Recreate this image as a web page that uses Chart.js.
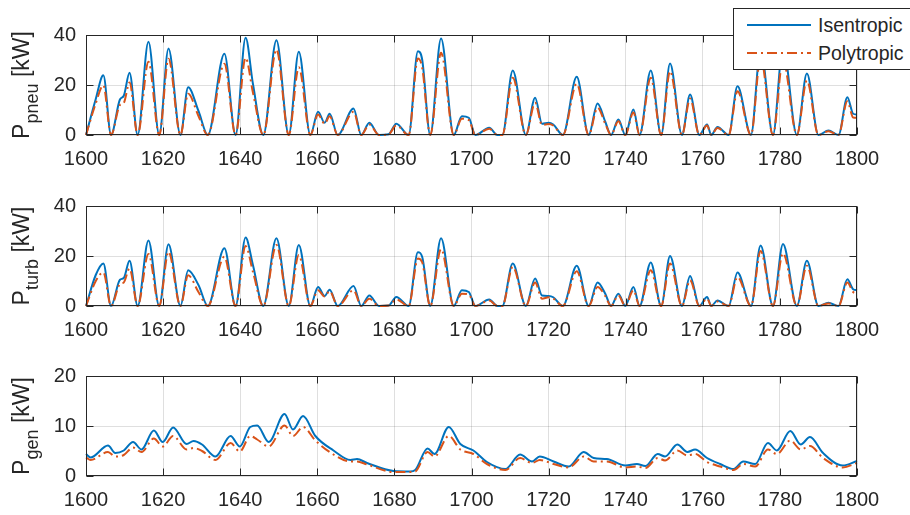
<!DOCTYPE html>
<html>
<head>
<meta charset="utf-8">
<script src="https://cdn.jsdelivr.net/npm/chart.js@4.4.1/dist/chart.umd.min.js"></script>
<style>
  body { margin: 0; background: #fff; }
  #wrap { position: relative; width: 910px; height: 515px; overflow: hidden; background: #fff;
          font-family: "Liberation Sans", Arial, sans-serif; color: #262626; }
  canvas { position: absolute; left: 0; }
  .ylab { position: absolute; white-space: nowrap; font-size: 23px; line-height: 23px;
          transform: translate(-50%, -50%) rotate(-90deg); }
  .ylab span { font-size: 18px; position: relative; top: 9px; }
  #legend { position: absolute; left: 733px; top: 8px; width: 185px; height: 60px;
            border: 1px solid #262626; background: #fff; font-size: 19.5px; }
  #legend .row { position: absolute; left: 0; height: 28px; line-height: 28px; }
  #legend svg { position: absolute; left: 13px; top: 0; }
  #legend .txt { position: absolute; left: 84px; top: 0; white-space: nowrap; }
</style>
</head>
<body>
<div id="wrap">
  <canvas id="pneu" width="910" height="170" style="top:0px"></canvas>
  <canvas id="turb" width="910" height="170" style="top:171px"></canvas>
  <canvas id="gen" width="910" height="170" style="top:341px"></canvas>

  <div class="ylab" style="left:22px; top:85px">P<span>pneu</span> [kW]</div>
  <div class="ylab" style="left:22px; top:256px">P<span>turb</span> [kW]</div>
  <div class="ylab" style="left:22px; top:426px">P<span>gen</span> [kW]</div>

  <div id="legend">
    <div class="row" style="top:2px">
      <svg width="66" height="28"><line x1="0" y1="14" x2="64" y2="14" stroke="#0072BD" stroke-width="2"/></svg>
      <div class="txt">Isentropic</div>
    </div>
    <div class="row" style="top:30px">
      <svg width="66" height="28"><line x1="0" y1="14" x2="64" y2="14" stroke="#D95319" stroke-width="2" stroke-dasharray="10 4 2 4"/></svg>
      <div class="txt">Polytropic</div>
    </div>
  </div>
</div>

<script>
// time points (s) for the pneumatic and turbine power traces
const time = [1600, 1602.5, 1604.5, 1606.5, 1608.8, 1609.8, 1611.3, 1613.4, 1616.2, 1619,
  1621.4, 1624.5, 1626.5, 1629.2, 1631.6, 1635.9, 1638.8, 1641.4, 1643.3, 1646,
  1649.4, 1652.6, 1655.2, 1658.2, 1660.2, 1661.9, 1663.2, 1665.3, 1669.4, 1671.4,
  1673.5, 1676, 1678.5, 1680.5, 1683.7, 1686.1, 1687.2, 1689.3, 1692.1, 1695.4,
  1697.5, 1699.3, 1701, 1704.6, 1706.7, 1708, 1710.7, 1714.1, 1716.5, 1718.3,
  1720, 1721.2, 1723.7, 1727.3, 1730.4, 1732.7, 1734.7, 1736.2, 1738.1, 1739.9,
  1742, 1743.6, 1746.5, 1749.2, 1751.5, 1754.6, 1756.7, 1759.1, 1761.1, 1762.2,
  1763.8, 1766.7, 1769, 1772.5, 1775, 1778.2, 1780.8, 1784.4, 1787, 1790,
  1792.6, 1795.2, 1797.5, 1799, 1800];

const pneuIsen = [0, 14.2, 23.9, 0, 14.2, 15.7, 24.9, 0, 37.3, 0,
  34.6, 0, 19.1, 9.5, 0, 32.5, 0, 38.9, 20.5, 0,
  37.9, 0, 33.3, 0, 9.3, 4.9, 8.5, 0, 10.6, 0,
  4.9, 0, 0.3, 4.5, 0, 33.5, 30.2, 0, 38.6, 0,
  7.5, 6.9, 0, 2.9, 0, 0, 25.8, 0, 14.9, 4.5,
  4.9, 4.2, 0, 23.3, 0, 12.6, 5.3, 0, 6.2, 0,
  10.2, 0, 25.8, 0, 28.6, 0, 16.2, 0, 4.2, 0,
  3.2, 0, 19.5, 0, 34.5, 0, 35.4, 0, 24.6, 0,
  1.8, 0, 15.1, 8.5, 8.2];
const pneuPoly = [0, 12.5, 19.9, 0, 12.0, 12.8, 21.0, 0, 29.3, 0,
  30.5, 0, 16.5, 7.5, 0, 28.5, 0, 30.9, 17.0, 0,
  34.2, 0, 27.1, 0, 8.2, 4.5, 7.5, 0, 9.3, 0,
  4.2, 0, 0.3, 3.8, 0, 30.6, 27.0, 0, 32.9, 0,
  6.5, 6.0, 0, 2.5, 0, 0, 22.9, 0, 12.9, 4.0,
  4.4, 3.8, 0, 20.5, 0, 10.9, 4.5, 0, 5.5, 0,
  9.0, 0, 22.9, 0, 25.5, 0, 14.6, 0, 3.8, 0,
  2.8, 0, 17.5, 0, 31.0, 0, 30.0, 0, 21.8, 0,
  1.5, 0, 13.5, 7.0, 6.9];

const turbIsen = [0, 12.3, 17.0, 0, 10.5, 11.2, 18.1, 0, 26.2, 0,
  24.7, 0, 14.3, 8.3, 0, 23.1, 0, 27.4, 16.4, 0,
  27.1, 0, 24.4, 0, 7.6, 4.0, 6.5, 0, 8.0, 0,
  4.2, 0, 0.2, 3.6, 0, 21.5, 19.7, 0, 27.1, 0,
  6.3, 5.6, 0, 2.6, 0, 0, 17.0, 0, 11.0, 4.2,
  4.0, 3.5, 0, 16.1, 0, 9.4, 4.9, 0, 4.9, 0,
  7.6, 0, 17.4, 0, 20.0, 0, 12.0, 0, 3.6, 0,
  2.2, 0, 13.4, 0, 24.2, 0, 24.8, 0, 18.1, 0,
  1.3, 0, 10.7, 6.7, 6.3];
const turbPoly = [0, 9.9, 13.4, 0, 8.8, 9.4, 15.0, 0, 20.8, 0,
  21.7, 0, 12.3, 5.5, 0, 19.7, 0, 24.0, 13.7, 0,
  24.4, 0, 20.4, 0, 6.3, 3.8, 6.0, 0, 6.3, 0,
  2.9, 0, 0.2, 2.6, 0, 19.0, 17.5, 0, 22.8, 0,
  4.9, 4.6, 0, 2.2, 0, 0, 15.7, 0, 9.4, 2.9,
  3.5, 3.0, 0, 13.9, 0, 7.6, 4.0, 0, 4.2, 0,
  6.3, 0, 14.3, 0, 17.0, 0, 10.3, 0, 3.0, 0,
  1.8, 0, 11.6, 0, 22.0, 0, 21.1, 0, 16.1, 0,
  1.0, 0, 9.4, 5.6, 4.9];

// generator power is smoother, read on its own time points
const genTime = [1600, 1601.2, 1605.7, 1607.6, 1609.8, 1612.2, 1614.4, 1617.6, 1619.9, 1622.6,
  1626.1, 1627.9, 1630.1, 1633.6, 1637.5, 1639.9, 1642.6, 1644.4, 1647.4, 1651.5,
  1653.7, 1656.3, 1659.5, 1664.2, 1668.6, 1670.3, 1672.9, 1679.8, 1684.1, 1685.4,
  1688.6, 1690.4, 1694.1, 1697.1, 1700.5, 1704, 1708.8, 1712.6, 1715.7, 1717.7,
  1721.3, 1725.2, 1729.1, 1731.7, 1735.1, 1739.9, 1742.9, 1745.1, 1748.3, 1750.2,
  1753.4, 1756, 1758, 1761.1, 1764.5, 1768, 1770.5, 1773.6, 1776.9, 1779.2,
  1782.7, 1785.4, 1787.8, 1791.2, 1796.3, 1800];
const genIsen = [4.4, 3.7, 6.1, 4.6, 5.1, 6.8, 5.3, 9.1, 6.8, 9.7,
  6.4, 7.0, 6.3, 3.9, 8.0, 5.9, 9.8, 10.1, 6.8, 12.4,
  9.3, 12.0, 8.0, 5.1, 3.2, 3.4, 2.6, 1.0, 0.9, 1.2,
  5.5, 4.4, 9.8, 6.4, 5.1, 2.8, 1.4, 4.3, 2.9, 3.9,
  2.9, 1.9, 4.8, 3.6, 3.4, 2.1, 2.4, 2.0, 4.4, 3.9,
  6.3, 4.8, 5.3, 3.6, 2.4, 1.4, 2.9, 2.4, 6.6, 5.1,
  9.0, 6.3, 7.8, 4.6, 2.1, 3.0];
const genPoly = [3.7, 3.2, 4.8, 3.9, 4.2, 5.7, 4.8, 7.5, 5.9, 8.0,
  5.3, 5.6, 5.0, 3.2, 6.6, 4.9, 8.0, 7.3, 5.9, 10.1,
  8.0, 9.8, 7.1, 4.3, 2.9, 2.9, 2.3, 0.8, 0.8, 0.9,
  4.8, 3.9, 8.0, 5.3, 4.4, 2.4, 1.2, 3.6, 2.6, 3.2,
  2.4, 1.7, 3.9, 2.9, 2.9, 1.7, 1.9, 1.6, 3.6, 3.1,
  5.1, 4.1, 4.4, 2.8, 1.9, 1.2, 2.4, 1.9, 5.3, 4.4,
  7.1, 5.3, 6.0, 3.6, 1.7, 2.6];

const xTicks = [1600, 1620, 1640, 1660, 1680, 1700, 1720, 1740, 1760, 1780, 1800];
const pneuTicks = [0, 20, 40];
const turbTicks = [0, 20, 40];
const genTicks = [0, 10, 20];

Chart.defaults.font.family = '"Liberation Sans", Arial, sans-serif';
Chart.defaults.font.size = 20;
Chart.defaults.color = "#262626";

const toXY = (ts, vs) => ts.map((t, i) => ({ x: t, y: vs[i] }));

// matlab style box with inward ticks
const boxPlugin = {
    id: "box",
    afterDraw(chart) {
        const { ctx, chartArea: a, scales } = chart;
        const L = Math.round(a.left) + 0.5, R = Math.round(a.right) - 0.5;
        const T = Math.round(a.top) + 0.5, B = Math.round(a.bottom) - 0.5;
        ctx.save();
        ctx.strokeStyle = "#262626";
        ctx.lineWidth = 1;
        ctx.strokeRect(L, T, R - L, B - T);
        ctx.beginPath();
        scales.x.ticks.forEach((t) => {
            const px = Math.round(scales.x.getPixelForValue(t.value)) + 0.5;
            ctx.moveTo(px, B); ctx.lineTo(px, B - 7);
            ctx.moveTo(px, T); ctx.lineTo(px, T + 7);
        });
        scales.y.ticks.forEach((t) => {
            const py = Math.round(scales.y.getPixelForValue(t.value)) + 0.5;
            ctx.moveTo(L, py); ctx.lineTo(L + 7, py);
            ctx.moveTo(R, py); ctx.lineTo(R - 7, py);
        });
        ctx.stroke();
        ctx.restore();
    },
};

const makeChart = (id, ts, isen, poly, yTicks) => {
    const ctx = document.getElementById(id).getContext("2d");
    return new Chart(ctx, {
        type: "line",
        data: {
            datasets: [
                {
                    label: "Isentropic",
                    data: toXY(ts, isen),
                    borderColor: "#0072BD",
                    borderWidth: 2,
                    pointRadius: 0,
                    cubicInterpolationMode: "monotone",
                    clip: false,
                    order: 1,
                },
                {
                    label: "Polytropic",
                    data: toXY(ts, poly),
                    borderColor: "#D95319",
                    borderWidth: 2,
                    borderDash: [10, 4, 2, 4],
                    pointRadius: 0,
                    cubicInterpolationMode: "monotone",
                    clip: false,
                    order: 0,
                },
            ],
        },
        options: {
            responsive: false,
            animation: false,
            layout: { padding: { left: 0, right: 53, top: 35, bottom: 0 } },
            plugins: { legend: { display: false }, tooltip: { enabled: false } },
            scales: {
                x: {
                    type: "linear",
                    min: xTicks[0],
                    max: xTicks[xTicks.length - 1],
                    afterBuildTicks: (s) => { s.ticks = xTicks.map((v) => ({ value: v })); },
                    afterFit: (s) => { s.height = 35; },
                    ticks: { callback: (v) => String(v), padding: 12, maxRotation: 0, autoSkip: false },
                    grid: { color: "rgba(38,38,38,0.15)", drawTicks: false },
                    border: { display: false },
                },
                y: {
                    min: yTicks[0],
                    max: yTicks[yTicks.length - 1],
                    afterBuildTicks: (s) => { s.ticks = yTicks.map((v) => ({ value: v })); },
                    afterFit: (s) => { s.width = 86; },
                    ticks: { callback: (v) => String(v), padding: 10 },
                    grid: { color: "rgba(38,38,38,0.15)", drawTicks: false },
                    border: { display: false },
                },
            },
        },
        plugins: [boxPlugin],
    });
};

makeChart("pneu", time, pneuIsen, pneuPoly, pneuTicks);
makeChart("turb", time, turbIsen, turbPoly, turbTicks);
makeChart("gen", genTime, genIsen, genPoly, genTicks);
</script>
</body>
</html>
